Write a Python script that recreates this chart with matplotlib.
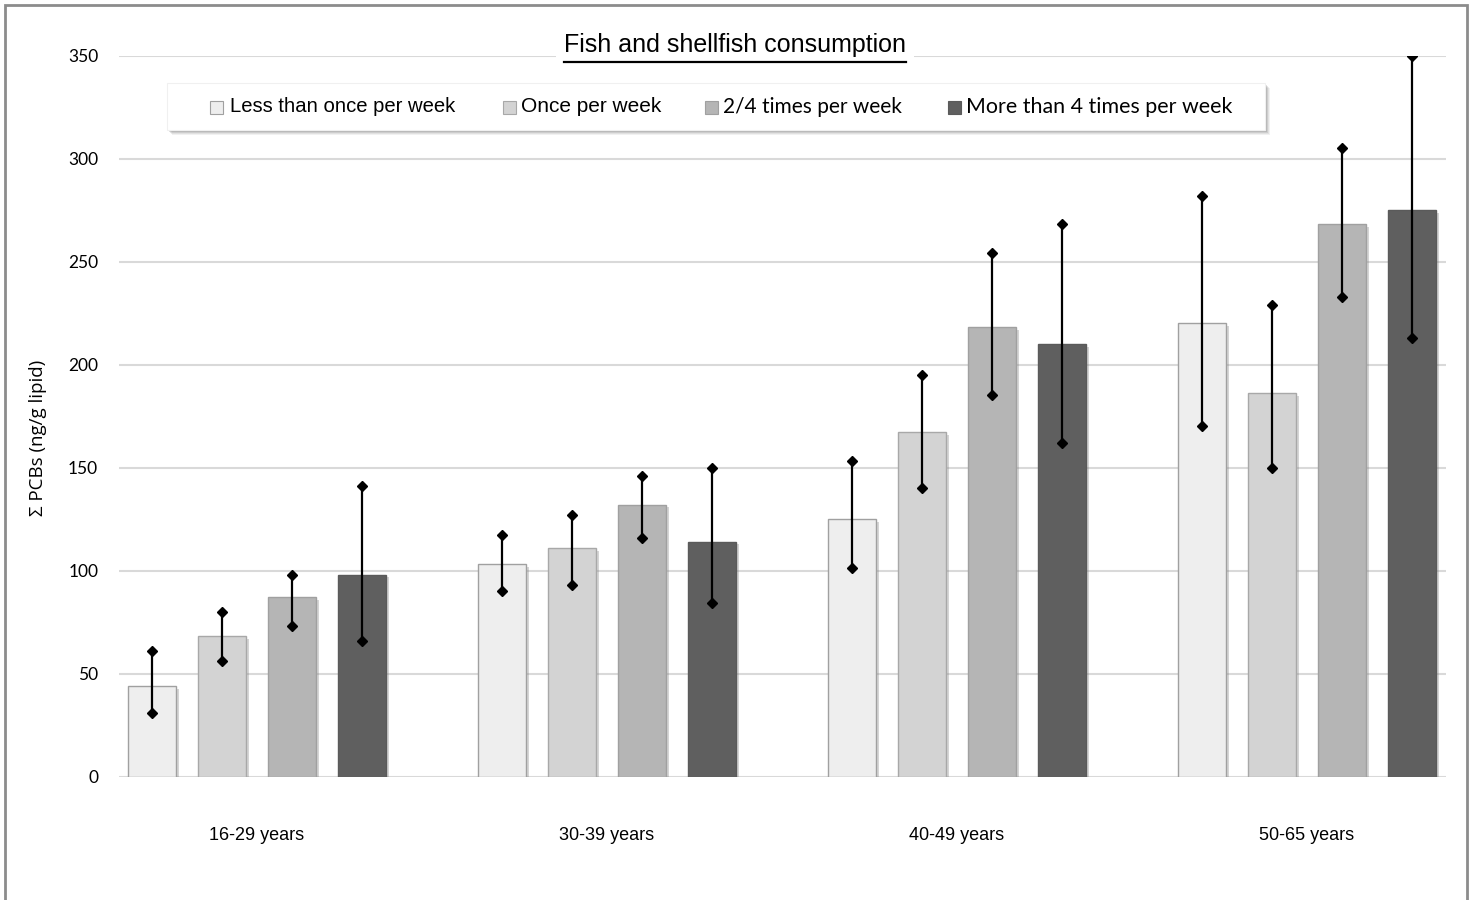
import matplotlib
matplotlib.use("Agg")
import matplotlib.pyplot as plt
from matplotlib import font_manager
from matplotlib.patches import Rectangle
import matplotlib.patheffects as pe
import numpy as np

# ---------------- data ----------------
groups = ["16-29 years", "30-39 years", "40-49 years", "50-65 years"]
series = ["Less than once per week", "Once per week", "2/4 times per week",
          "More than 4 times per week"]
values = {
    "Less than once per week":    [44, 103, 125, 220],
    "Once per week":              [68, 111, 167, 186],
    "2/4 times per week":         [87, 132, 218, 268],
    "More than 4 times per week": [98, 114, 210, 275],
}
err_low = {
    "Less than once per week":    [31, 90, 101, 170],
    "Once per week":              [56, 93, 140, 150],
    "2/4 times per week":         [73, 116, 185, 233],
    "More than 4 times per week": [66, 84, 162, 213],
}
err_high = {
    "Less than once per week":    [61, 117, 153, 282],
    "Once per week":              [80, 127, 195, 229],
    "2/4 times per week":         [98, 146, 254, 305],
    "More than 4 times per week": [141, 150, 268, 350],
}
yticks = [0, 50, 100, 150, 200, 250, 300, 350]
title = "Fish and shellfish consumption"
ylabel = "Σ PCBs (ng/g lipid)"

colors = ["#eeeeee", "#d3d3d3", "#b5b5b5", "#5f5f5f"]
edges = ["#a0a0a0", "#a8a8a8", "#a0a0a0", "#5a5a5a"]

# ---------------- fonts ----------------
avail = {f.name for f in font_manager.fontManager.ttflist}
narrow = "Liberation Sans Narrow" if "Liberation Sans Narrow" in avail else "Liberation Sans"
normal = "Lato" if "Lato" in avail else "DejaVu Sans"
wide = "Open Sans" if "Open Sans" in avail else "DejaVu Sans"
plt.rcParams["font.family"] = [normal, "DejaVu Sans"]

W, H = 1473, 900
fig = plt.figure(figsize=(W / 100, H / 100), dpi=100)
fig.patch.set_facecolor("white")

def fx(px):
    return px / W

def fy(py):
    return 1 - py / H

ax = fig.add_axes([fx(119), fy(776.5), fx(1446) - fx(119), fy(55.5) - fy(776.5)])
ax.set_ylim(0, 350)
ax.set_xlim(-0.394, 3.397)

x = np.arange(len(groups))
offsets = [-0.3, -0.1, 0.1, 0.3]
bw = 0.137

for i, s in enumerate(series):
    xs = x + offsets[i]
    ax.bar(xs, values[s], width=bw, color=colors[i], edgecolor=edges[i], linewidth=1.0,
           zorder=3,
           path_effects=[pe.SimplePatchShadow(offset=(2, -2), shadow_rgbFace="#888888", alpha=0.35),
                         pe.Normal()])
    lo = np.array(err_low[s]); hi = np.array(err_high[s])
    ax.vlines(xs, lo, hi, color="black", linewidth=1.6, zorder=4)
    ax.plot(xs, lo, linestyle="none", marker="D", markersize=5.5, color="black", zorder=5)
    ax.plot(xs, hi, linestyle="none", marker="D", markersize=5.5, color="black", zorder=5)

ax.set_yticks(yticks)
ax.set_yticklabels([str(t) for t in yticks], fontsize=12.5, family=[normal])
ax.tick_params(axis="y", length=0, pad=15)
ax.yaxis.grid(True, color="#d9d9d9", linewidth=1.5, zorder=0)
ax.set_axisbelow(True)
for sp in ax.spines.values():
    sp.set_visible(False)

ax.set_xticks(x)
ax.set_xticklabels(groups, fontsize=13, family=[narrow])
ax.tick_params(axis="x", length=0, pad=36)

fig.text(fx(38), fy(438), ylabel, rotation=90, ha="center", va="center", fontsize=13.5,
         family=[wide, "DejaVu Sans"])

# outer border
fig.add_artist(Rectangle((fx(5), fy(905)), fx(1467) - fx(5), fy(5) - fy(905),
                         transform=fig.transFigure, fill=False, edgecolor="#8c8c8c",
                         linewidth=2, clip_on=False))

# title with white background and underline
t = fig.text(fx(735), fy(45), title, ha="center", va="center", fontsize=18, family=[narrow],
             bbox=dict(facecolor="white", edgecolor="none", pad=6), zorder=10)
fig.canvas.draw()
bb = t.get_window_extent(renderer=fig.canvas.get_renderer())
fig.add_artist(plt.Line2D([bb.x0 / W, bb.x1 / W], [fy(62), fy(62)], transform=fig.transFigure,
                          color="black", linewidth=1.6, zorder=11))

# legend box with shadow
lx0, lx1, ly0, ly1 = 167, 1265, 83, 130
for k, a in [(5, 0.08), (4, 0.1), (3, 0.14), (2, 0.18)]:
    fig.add_artist(Rectangle((fx(lx0 + k), fy(ly1 + k)), fx(lx1) - fx(lx0), fy(ly0) - fy(ly1),
                             transform=fig.transFigure, facecolor="#555555", edgecolor="none",
                             alpha=a, zorder=8))
fig.add_artist(Rectangle((fx(lx0), fy(ly1)), fx(lx1) - fx(lx0), fy(ly0) - fy(ly1),
                         transform=fig.transFigure, facecolor="white", edgecolor="#f0f0f0",
                         linewidth=0.8, zorder=9))
sq_x = [210, 503, 705, 948]
tx_x = [230, 521, 723, 966]
fams = [[narrow], [narrow], [normal], [normal]]
fsz = [14.6, 15, 15, 15.4]
for i, s in enumerate(series):
    fig.add_artist(Rectangle((fx(sq_x[i]), fy(114)), fx(13), 13 / H, transform=fig.transFigure,
                             facecolor=colors[i], edgecolor=edges[i], linewidth=0.8, zorder=10))
    fig.text(fx(tx_x[i]), fy(107), s, ha="left", va="center", fontsize=fsz[i], family=fams[i],
             zorder=10)

fig.savefig("out.png", dpi=100)
